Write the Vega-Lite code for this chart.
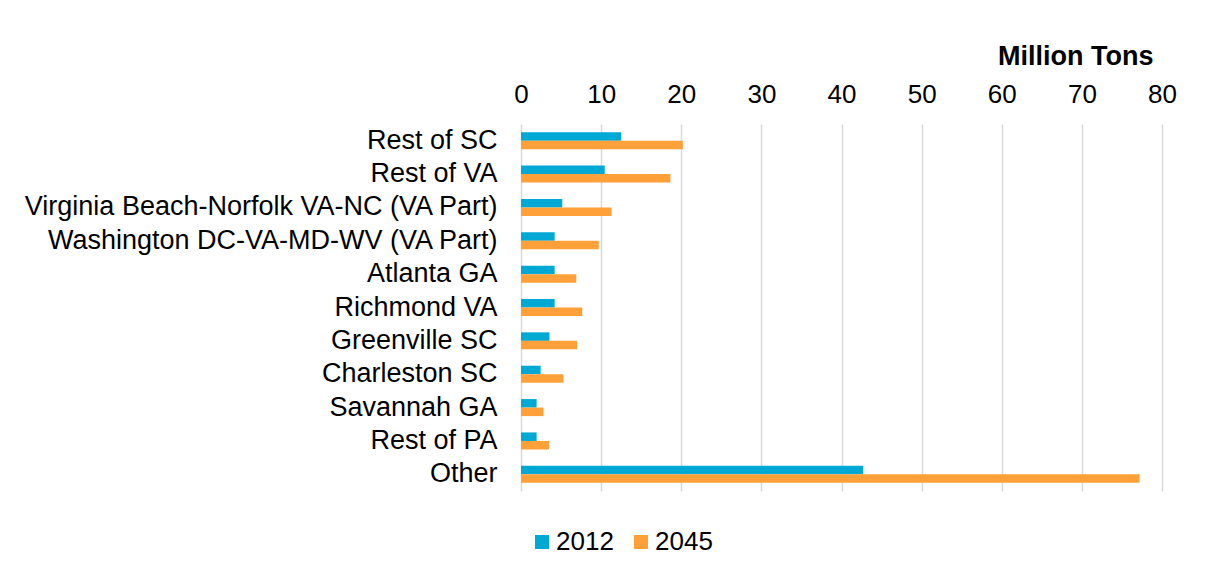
{
  "$schema": "https://vega.github.io/schema/vega-lite/v6.json",
  "width": 641,
  "height": 367,
  "autosize": {"type": "none"},
  "padding": {"left": 521, "top": 124, "right": 63, "bottom": 89},
  "background": "white",
  "data": {
    "values": [
      {"region": "Rest of SC", "year": "2012", "tons": 12.5},
      {"region": "Rest of SC", "year": "2045", "tons": 20.2},
      {"region": "Rest of VA", "year": "2012", "tons": 10.45},
      {"region": "Rest of VA", "year": "2045", "tons": 18.65},
      {"region": "Virginia Beach-Norfolk VA-NC (VA Part)", "year": "2012", "tons": 5.15},
      {"region": "Virginia Beach-Norfolk VA-NC (VA Part)", "year": "2045", "tons": 11.3},
      {"region": "Washington DC-VA-MD-WV (VA Part)", "year": "2012", "tons": 4.2},
      {"region": "Washington DC-VA-MD-WV (VA Part)", "year": "2045", "tons": 9.7},
      {"region": "Atlanta GA", "year": "2012", "tons": 4.2},
      {"region": "Atlanta GA", "year": "2045", "tons": 6.9},
      {"region": "Richmond VA", "year": "2012", "tons": 4.2},
      {"region": "Richmond VA", "year": "2045", "tons": 7.65},
      {"region": "Greenville SC", "year": "2012", "tons": 3.55},
      {"region": "Greenville SC", "year": "2045", "tons": 7.0},
      {"region": "Charleston SC", "year": "2012", "tons": 2.45},
      {"region": "Charleston SC", "year": "2045", "tons": 5.3},
      {"region": "Savannah GA", "year": "2012", "tons": 1.95},
      {"region": "Savannah GA", "year": "2045", "tons": 2.8},
      {"region": "Rest of PA", "year": "2012", "tons": 1.95},
      {"region": "Rest of PA", "year": "2045", "tons": 3.5},
      {"region": "Other", "year": "2012", "tons": 42.7},
      {"region": "Other", "year": "2045", "tons": 77.2}
    ]
  },
  "mark": {"type": "bar"},
  "encoding": {
    "y": {
      "field": "region",
      "type": "nominal",
      "sort": null,
      "scale": {"paddingInner": 0.49, "paddingOuter": 0.245},
      "axis": {
        "title": null,
        "ticks": false,
        "domain": false,
        "labelFontSize": 27,
        "labelFont": "Liberation Sans",
        "labelColor": "#000000",
        "labelPadding": 24,
        "labelLimit": 600
      }
    },
    "yOffset": {"field": "year", "type": "nominal", "scale": {"paddingInner": 0}},
    "x": {
      "field": "tons",
      "type": "quantitative",
      "scale": {"domain": [0, 80], "nice": false},
      "axis": {
        "orient": "top",
        "values": [0, 10, 20, 30, 40, 50, 60, 70, 80],
        "title": "Million Tons",
        "titleFont": "Liberation Sans",
        "titleFontSize": 27,
        "titleFontWeight": "bold",
        "titleColor": "#000000",
        "titleAlign": "right",
        "titleBaseline": "alphabetic",
        "titleX": 632,
        "titleY": -60,
        "ticks": false,
        "domain": false,
        "labelFlush": false,
        "labelFontSize": 26,
        "labelFont": "Liberation Sans",
        "labelColor": "#000000",
        "labelPadding": 17,
        "grid": true,
        "gridColor": "#d9d9d9",
        "gridWidth": 1.5
      }
    },
    "color": {
      "field": "year",
      "type": "nominal",
      "scale": {"domain": ["2012", "2045"], "range": ["#00A8D4", "#FFA038"]},
      "legend": {
        "title": null,
        "orient": "none",
        "direction": "horizontal",
        "legendX": 8,
        "legendY": 405,
        "symbolType": "square",
        "symbolSize": 196,
        "symbolStrokeWidth": 0,
        "labelFontSize": 26,
        "labelFont": "Liberation Sans",
        "labelColor": "#000000",
        "labelOffset": 1,
        "columnPadding": 14
      }
    }
  },
  "config": {"view": {"stroke": null}}
}
